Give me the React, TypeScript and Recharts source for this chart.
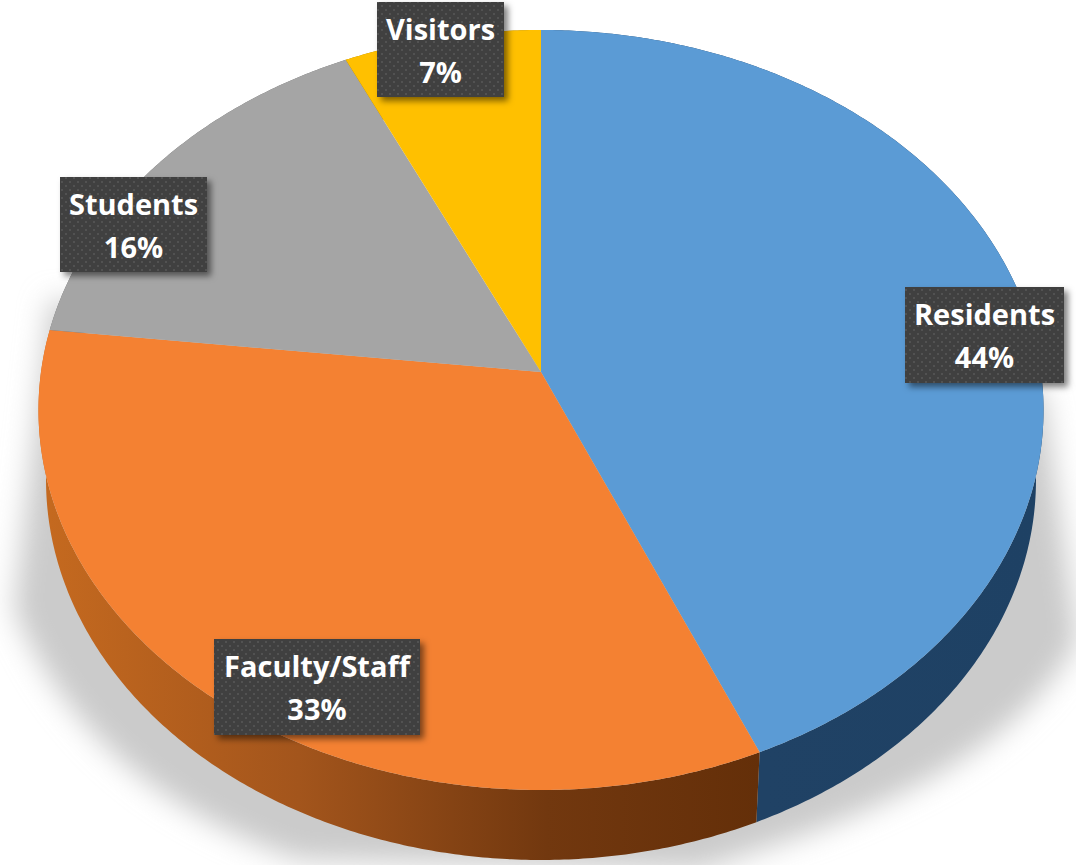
import { PieChart, Pie } from "recharts";

const categories = ["Residents", "Faculty/Staff", "Students", "Visitors"];
const shares = [43.5, 33.3, 16.2, 7];
const topColors = ["#5B9BD5", "#F48132", "#A5A5A5", "#FFC000"];
const wallColors = ["url(#wallBlue)", "url(#wallOrange)", "#6b6b6b", "#a07800"];

const topData = categories.map((name, i) => ({ name, value: shares[i], fill: topColors[i] }));
const wallData = categories.map((name, i) => ({ name, value: shares[i], fill: wallColors[i] }));

// where each dark label box sits on the page
const labelBoxes: Record<string, { x: number; y: number; w: number; h: number }> = {
  Residents: { x: 905, y: 287, w: 159, h: 96 },
  "Faculty/Staff": { x: 214, y: 639, w: 206, h: 96 },
  Students: { x: 60, y: 177, w: 147, h: 95 },
  Visitors: { x: 377, y: 2, w: 127, h: 95 },
};

const WIDTH = 1076;
const HEIGHT = 865;
const CX = 541;
const CY = 372;
const RADIUS = 500;
// perspective of the tilted disc
const TILT_Y = 0.7524;
const TILT_W = -0.1;
const DEPTH = 70;
const BOTTOM_SCALE = 0.985;

// circle point at a recharts angle -> point on the tilted disc
function project(angle: number, cx: number, cy: number, r: number) {
  const rad = ((90 - angle) * Math.PI) / 180;
  const u = Math.sin(rad);
  const v = -Math.cos(rad);
  const w = 1 + TILT_W * v;
  return { x: cx + (r * u) / w, y: cy + (r * TILT_Y * v) / w };
}

function arcPoints(start: number, end: number, cx: number, cy: number, r: number) {
  const steps = Math.max(8, Math.ceil(Math.abs(start - end) * 2));
  const pts = [];
  for (let i = 0; i <= steps; i++) {
    pts.push(project(start + ((end - start) * i) / steps, cx, cy, r));
  }
  return pts;
}

function TopSlice(props: any) {
  const { cx, cy, outerRadius, startAngle, endAngle, fill } = props;
  const pts = arcPoints(startAngle, endAngle, cx, cy, outerRadius);
  const d = `M${cx},${cy} ` + pts.map((p) => `L${p.x},${p.y}`).join(" ") + " Z";
  return <path d={d} fill={fill} />;
}

function WallSlice(props: any) {
  const { cx, cy, outerRadius, startAngle, endAngle, fill } = props;
  const top = arcPoints(startAngle, endAngle, cx, cy, outerRadius);
  const bottom = top
    .map((p) => ({ x: cx + (p.x - cx) * BOTTOM_SCALE, y: p.y + DEPTH }))
    .reverse();
  const d = [...top, ...bottom].map((p, i) => `${i ? "L" : "M"}${p.x},${p.y}`).join(" ") + " Z";
  return <path d={d} fill={fill} />;
}

function renderLabel(props: any) {
  const box = labelBoxes[props.name];
  const mid = box.x + box.w / 2;
  const textStyle = { fontFamily: "'Open Sans', sans-serif", fontWeight: 700, fontSize: 29 };
  return (
    <g key={props.name}>
      <rect x={box.x} y={box.y} width={box.w} height={box.h} fill="#404040" filter="url(#boxShadow)" />
      <rect x={box.x} y={box.y} width={box.w} height={box.h} fill="url(#dots)" />
      <text x={mid} y={box.y + 38} textAnchor="middle" fill="#fff" style={textStyle}>
        {props.name}
      </text>
      <text x={mid} y={box.y + 81} textAnchor="middle" fill="#fff" style={textStyle}>
        {Math.round(props.value)}%
      </text>
    </g>
  );
}

export default function App() {
  return (
    <div style={{ position: "absolute", left: 0, top: 0, width: WIDTH, height: HEIGHT, overflow: "hidden", background: "#fff" }}>
      <PieChart width={WIDTH} height={HEIGHT} margin={{ top: 0, right: 0, bottom: 0, left: 0 }}>
        <defs>
          <linearGradient id="wallOrange" gradientUnits="userSpaceOnUse" x1="50" y1="0" x2="760" y2="0">
            <stop offset="0" stopColor="#c4691f" />
            <stop offset="0.35" stopColor="#a3551c" />
            <stop offset="0.7" stopColor="#72380f" />
            <stop offset="1" stopColor="#642f09" />
          </linearGradient>
          <linearGradient id="wallBlue" gradientUnits="userSpaceOnUse" x1="760" y1="0" x2="1040" y2="0">
            <stop offset="0" stopColor="#204265" />
            <stop offset="1" stopColor="#1e4164" />
          </linearGradient>
          <filter id="groundBlur" x="-10%" y="-10%" width="120%" height="120%">
            <feGaussianBlur stdDeviation="14" />
          </filter>
          <filter id="boxShadow" x="-10%" y="-10%" width="125%" height="130%">
            <feDropShadow dx="4" dy="4" stdDeviation="3" floodColor="#000" floodOpacity="0.5" />
          </filter>
          <pattern id="dots" width="8" height="8" patternUnits="userSpaceOnUse">
            <rect x="1" y="1" width="2" height="2" fill="#525252" />
            <rect x="5" y="5" width="2" height="2" fill="#525252" />
          </pattern>
        </defs>
        <path
          d="M1043 390 L1078 640 C1030 730 930 790 790 840 L700 870 L300 860 C150 810 60 720 14 610 L50 300 Z"
          fill="#cbcbcb"
          filter="url(#groundBlur)"
        />
        <Pie
          data={wallData}
          dataKey="value"
          cx={CX}
          cy={CY}
          outerRadius={RADIUS}
          startAngle={90}
          endAngle={-270}
          stroke="none"
          shape={WallSlice}
          isAnimationActive={false}
        />
        <Pie
          data={topData}
          dataKey="value"
          cx={CX}
          cy={CY}
          outerRadius={RADIUS}
          startAngle={90}
          endAngle={-270}
          stroke="none"
          shape={TopSlice}
          label={renderLabel}
          labelLine={false}
          isAnimationActive={false}
        />
      </PieChart>
    </div>
  );
}
